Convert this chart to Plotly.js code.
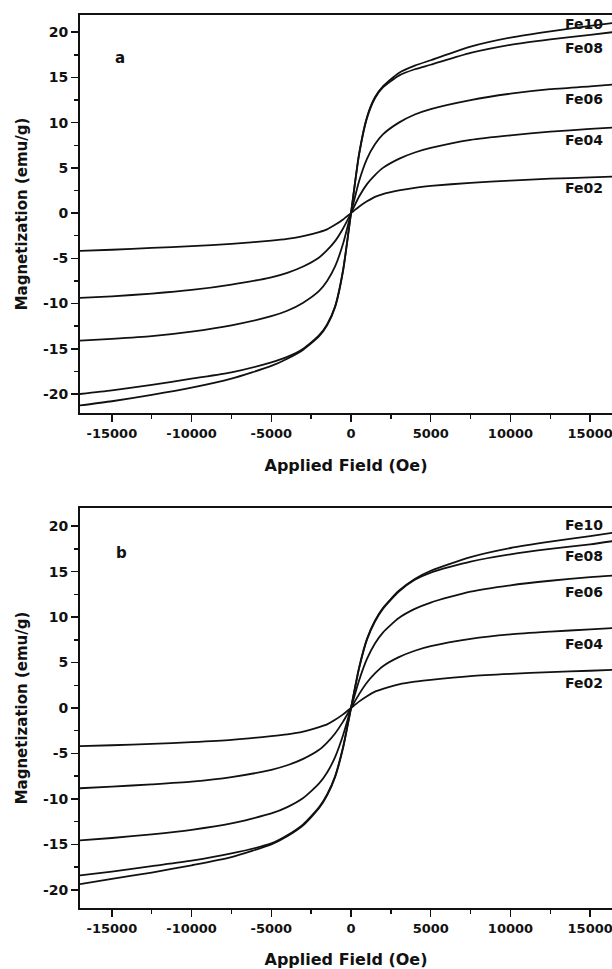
<!DOCTYPE html>
<html>
<head>
<meta charset="utf-8">
<script src="https://cdn.plot.ly/plotly-3.0.1.min.js"></script>
<style>html,body{margin:0;padding:0;background:#fff;overflow:hidden}#chart{width:612px;height:969px}</style>
</head>
<body>
<div id="chart"></div>
<script>
// Applied field (Oe)
const field = [-17000,-15000,-12500,-10000,-7500,-5000,-4000,-3000,-2000,-1500,-1000,-500,0,500,1000,1500,2000,3000,4000,5000,7500,10000,12500,15000,16400];

// Panel a magnetization (emu/g)
const fe10a = [-21.26,-20.8,-20.1,-19.3,-18.3,-16.9,-16.1,-15.1,-13.6,-12.4,-10.4,-6.4,0,6.5,10.6,12.8,14.0,15.5,16.3,16.9,18.4,19.4,20.1,20.7,21.0];
const fe08a = [-20.0,-19.6,-19.0,-18.3,-17.6,-16.5,-15.9,-15.0,-13.5,-12.3,-10.3,-6.3,0,6.4,10.5,12.7,13.9,15.2,15.9,16.4,17.7,18.6,19.2,19.7,20.0];
const fe06a = [-14.1,-13.9,-13.6,-13.1,-12.4,-11.4,-10.8,-9.9,-8.6,-7.5,-5.9,-3.4,0,3.5,6.0,7.6,8.7,10.0,10.9,11.5,12.5,13.2,13.7,14.0,14.2];
const fe04a = [-9.37,-9.2,-8.9,-8.5,-7.9,-7.1,-6.6,-5.9,-4.9,-4.1,-3.1,-1.7,0,1.8,3.2,4.2,5.0,6.0,6.7,7.2,8.1,8.6,9.0,9.3,9.46];
const fe02a = [-4.17,-4.05,-3.85,-3.65,-3.4,-3.05,-2.85,-2.55,-2.1,-1.8,-1.3,-0.7,0,0.7,1.3,1.8,2.1,2.5,2.8,3.0,3.35,3.6,3.8,3.95,4.04];

// Panel b magnetization (emu/g)
const fe10b = [-19.37,-18.8,-18.1,-17.3,-16.4,-15.0,-14.1,-12.9,-11.0,-9.6,-7.6,-4.4,0,4.4,7.6,9.6,11.0,12.9,14.2,15.1,16.6,17.6,18.3,18.9,19.27];
const fe08b = [-18.41,-18.0,-17.4,-16.8,-16.0,-14.9,-14.0,-12.8,-10.9,-9.5,-7.5,-4.3,0,4.3,7.5,9.5,10.9,12.8,14.1,14.9,16.1,16.9,17.5,18.0,18.35];
const fe06b = [-14.57,-14.3,-13.9,-13.4,-12.7,-11.6,-10.9,-9.9,-8.3,-7.1,-5.4,-3.0,0,3.0,5.4,7.1,8.3,9.9,10.9,11.6,12.8,13.5,14.0,14.4,14.57];
const fe04b = [-8.83,-8.65,-8.4,-8.1,-7.6,-6.8,-6.3,-5.6,-4.6,-3.8,-2.8,-1.5,0,1.5,2.8,3.8,4.6,5.6,6.3,6.8,7.6,8.1,8.4,8.65,8.8];
const fe02b = [-4.2,-4.1,-3.95,-3.75,-3.5,-3.1,-2.9,-2.6,-2.1,-1.8,-1.3,-0.7,0,0.7,1.3,1.8,2.1,2.6,2.9,3.1,3.5,3.75,3.95,4.1,4.2];

const seriesNames = ['Fe10','Fe08','Fe06','Fe04','Fe02'];
const panelA = [fe10a, fe08a, fe06a, fe04a, fe02a];
const panelB = [fe10b, fe08b, fe06b, fe04b, fe02b];

// label anchor values (data units) for series names
const labelFieldA = [14600,14600,14600,14600,14600];
const labelMagA = [20.9,18.2,12.6,8.1,2.8];
const labelFieldB = [14600,14600,14600,14600,14600];
const labelMagB = [20.1,16.7,12.8,7.0,2.7];

const xTickVals = [-15000,-10000,-5000,0,5000,10000,15000];
const xTickText = ['-15000','-10000','-5000','0','5000','10000','15000'];
const yTickVals = [-20,-15,-10,-5,0,5,10,15,20];
const yTickText = ['-20','-15','-10','-5','0','5','10','15','20'];

const FONT = 'DejaVu Sans, Liberation Sans, Arial, sans-serif';
const W = 612, H = 969;

const traces = [];
panelA.forEach((m, i) => traces.push({x: field, y: m, xaxis: 'x', yaxis: 'y', mode: 'lines', name: seriesNames[i] + ' a',
  line: {color: '#111', width: 1.8, shape: 'spline', smoothing: 0.6}, showlegend: false, hoverinfo: 'skip'}));
panelB.forEach((m, i) => traces.push({x: field, y: m, xaxis: 'x2', yaxis: 'y2', mode: 'lines', name: seriesNames[i] + ' b',
  line: {color: '#111', width: 1.8, shape: 'spline', smoothing: 0.6}, showlegend: false, hoverinfo: 'skip'}));

function xax(anchor) {
  return {
    anchor: anchor, domain: [80 / W, 1], range: [-17000, 16370],
    showline: true, linewidth: 2, linecolor: '#111', mirror: true,
    showgrid: false, zeroline: false,
    ticks: 'outside', ticklen: 7, tickwidth: 1.5, tickcolor: '#111',
    tickmode: 'array', tickvals: xTickVals, ticktext: xTickText,
    ticklabeloverflow: 'allow',
    minor: {tickmode: 'linear', tick0: 0, dtick: 2500, ticks: 'outside', ticklen: 4, tickwidth: 1.5, tickcolor: '#111', showgrid: false},
    tickfont: {family: FONT, size: 13, weight: 'bold', color: '#111'},
    title: {text: 'Applied Field (Oe)', font: {family: FONT, size: 16, weight: 'bold', color: '#111'}, standoff: 20},
    automargin: false, fixedrange: true
  };
}
function yax(anchor, domain, range) {
  return {
    anchor: anchor, domain: domain, range: range,
    showline: true, linewidth: 2, linecolor: '#111', mirror: false,
    showgrid: false, zeroline: false,
    ticks: 'outside', ticklen: 7, tickwidth: 1.5, tickcolor: '#111',
    tickmode: 'array', tickvals: yTickVals, ticktext: yTickText,
    minor: {tickmode: 'linear', tick0: 0, dtick: 2.5, ticks: 'outside', ticklen: 4, tickwidth: 1.5, tickcolor: '#111', showgrid: false},
    tickfont: {family: FONT, size: 14, weight: 'bold', color: '#111'},
    title: {text: 'Magnetization (emu/g)', font: {family: FONT, size: 15, weight: 'bold', color: '#111'}, standoff: 12},
    automargin: false, fixedrange: true
  };
}

const annotations = [];
seriesNames.forEach((n, i) => {
  annotations.push({x: labelFieldA[i], y: labelMagA[i], xref: 'x', yref: 'y', text: n, showarrow: false,
    font: {family: FONT, size: 14, weight: 'bold', color: '#111'}});
  annotations.push({x: labelFieldB[i], y: labelMagB[i], xref: 'x2', yref: 'y2', text: n, showarrow: false,
    font: {family: FONT, size: 14, weight: 'bold', color: '#111'}});
});
annotations.push({x: -14480, y: 17.2, xref: 'x', yref: 'y', text: 'a', showarrow: false, font: {family: FONT, size: 15, weight: 'bold', color: '#111'}});
annotations.push({x: -14420, y: 17.0, xref: 'x2', yref: 'y2', text: 'b', showarrow: false, font: {family: FONT, size: 15, weight: 'bold', color: '#111'}});

const layout = {
  width: W, height: H,
  margin: {l: 0, r: 0, t: 0, b: 0},
  paper_bgcolor: '#fff', plot_bgcolor: '#fff',
  showlegend: false,
  xaxis: xax('y'),
  yaxis: yax('x', [1 - 413 / H, 1 - 15 / H], [-22.1, 21.9]),
  xaxis2: xax('y2'),
  yaxis2: yax('x2', [1 - 908 / H, 1 - 508 / H], [-22, 22]),
  annotations: annotations
};

Plotly.newPlot('chart', traces, layout, {displayModeBar: false, staticPlot: true});
</script>
</body>
</html>
